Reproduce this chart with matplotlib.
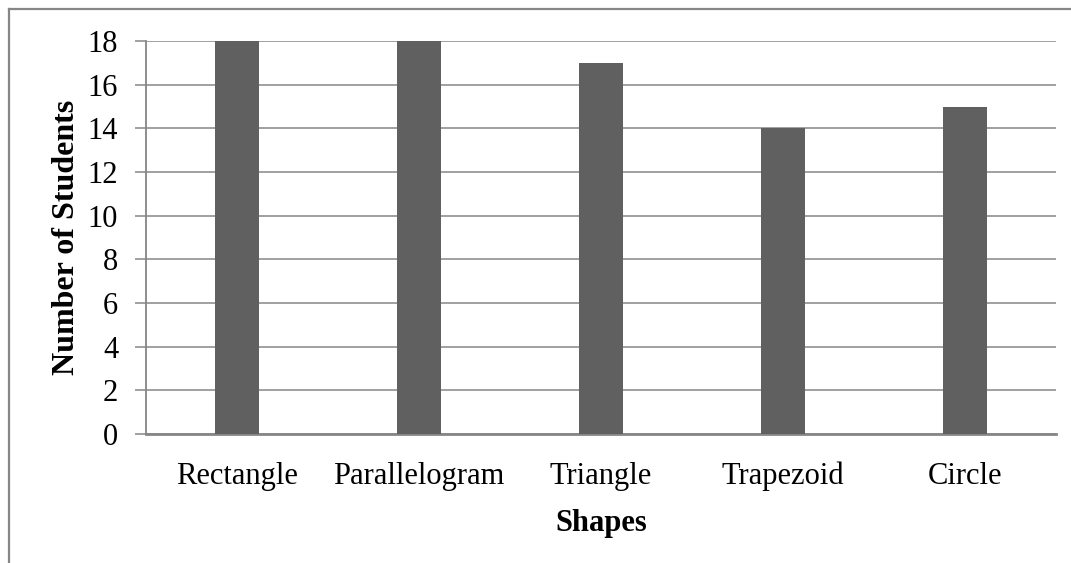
import matplotlib.pyplot as plt
from matplotlib.lines import Line2D

shapes = ['Rectangle', 'Parallelogram', 'Triangle', 'Trapezoid', 'Circle']
students = [18, 18, 17, 14, 15]
y_ticks = [0, 2, 4, 6, 8, 10, 12, 14, 16, 18]

plt.rcParams['font.family'] = ['Liberation Serif', 'DejaVu Serif']

fig = plt.figure(figsize=(10.71, 5.63), dpi=100)
ax = fig.add_axes([0.1363, 0.229, 0.986 - 0.1363, 0.927 - 0.229])

# chart border (only top and left visible in the original)
grey = '#868686'
fig.add_artist(Line2D([9 / 1071, 9 / 1071], [0, 1 - 9 / 563], transform=fig.transFigure,
                      color=grey, lw=1.6))
fig.add_artist(Line2D([9 / 1071, 1], [1 - 9 / 563, 1 - 9 / 563], transform=fig.transFigure,
                      color=grey, lw=1.6))

x = range(len(shapes))
ax.bar(x, students, width=0.24, color='#606060', zorder=3)

ax.set_xlim(-0.5, len(shapes) - 0.5)
ax.set_ylim(0, 18)
ax.set_yticks(y_ticks)
ax.set_xticks(list(x))
ax.set_xticklabels(shapes)
ax.grid(axis='y', color=grey, lw=1.1, zorder=0)

for side in ['top', 'right']:
    ax.spines[side].set_visible(False)
ax.spines['left'].set_color(grey)
ax.spines['left'].set_linewidth(1.3)
ax.spines['bottom'].set_color(grey)
ax.spines['bottom'].set_linewidth(2)

ax.tick_params(axis='y', length=8, width=1.1, color=grey, pad=12, labelsize=22)
ax.tick_params(axis='x', length=0, pad=20, labelsize=22)

ax.set_xlabel('Shapes', fontsize=22, fontweight='bold', labelpad=13)
ax.set_ylabel('Number of Students', fontsize=23, fontweight='bold', labelpad=5)

fig.savefig('out.png', dpi=100)
